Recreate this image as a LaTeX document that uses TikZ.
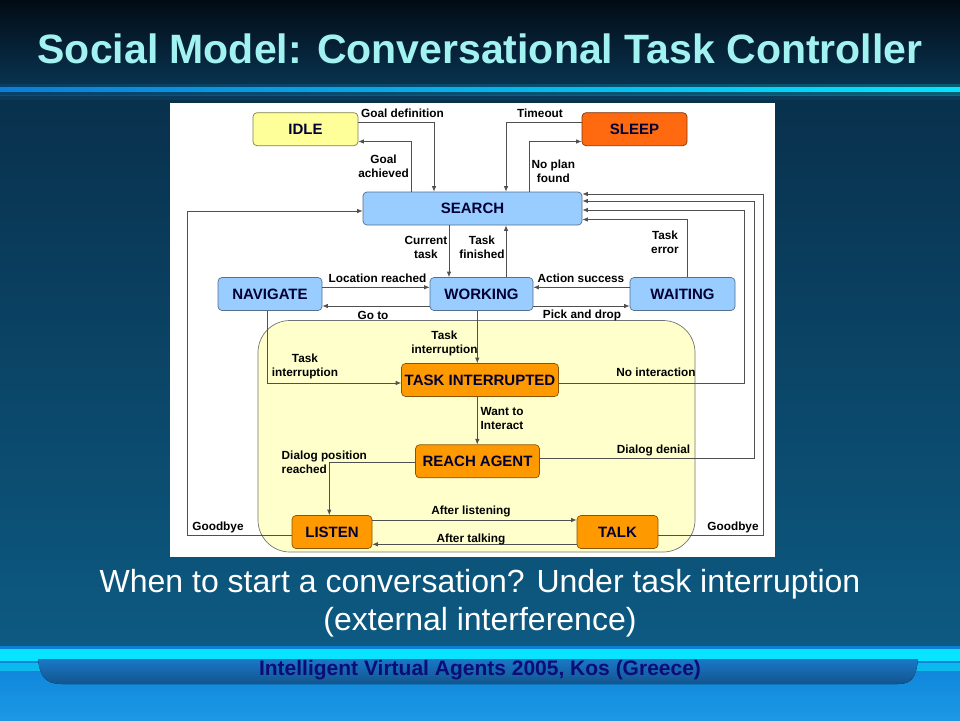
\documentclass[tikz,border=0pt]{standalone}
\usepackage{fontspec}
\setmainfont{Liberation Sans}
\usetikzlibrary{arrows.meta}

\definecolor{stateblue}{HTML}{99CCFF}
\definecolor{stateorange}{HTML}{FF9900}
\definecolor{statered}{HTML}{FF6A10}
\definecolor{stateyellow}{HTML}{FFFF99}
\definecolor{zonefill}{HTML}{FFFFCC}
\definecolor{wire}{HTML}{505050}
\definecolor{titlecyan}{HTML}{A2F2F2}
\definecolor{footnavy}{HTML}{0C0C78}
\definecolor{bgtop}{HTML}{020B15}
\definecolor{bgmid}{HTML}{0A3A5A}
\definecolor{bglow}{HTML}{0D5A82}
\definecolor{bandcyan}{HTML}{08E4FF}
\definecolor{bandblue}{HTML}{0B7FD6}
\definecolor{bandlight}{HTML}{1C98E6}
\definecolor{ribbon}{HTML}{1A78C8}

\tikzset{
  state/.style={rounded corners=4pt, minimum height=33pt, inner sep=0pt, line width=.7pt,
    font=\fontsize{15}{18}\selectfont\bfseries, text=black!80!blue},
  bluestate/.style={state, fill=stateblue, draw=black!45!stateblue},
  orangestate/.style={state, fill=stateorange, draw=black!45!stateorange},
  edge/.style={draw=wire, line width=.8pt, -{Latex[length=5.5pt,width=4.5pt]}},
  lbl/.style={font=\fontsize{11.8}{14}\selectfont\bfseries, inner sep=0pt, text=black, align=center}
}

\begin{document}
\begin{tikzpicture}[x=1pt,y=-1pt]
  \useasboundingbox (0,0) rectangle (960,720);
  % slide background
  \fill[top color=bgtop, bottom color=bgmid] (0,0) rectangle (960,100);
  \fill[top color=bgmid!80!bgtop, bottom color=bglow] (0,100) rectangle (960,646);
  \fill[left color=bandblue, right color=bandcyan, opacity=.3] (0,84) rectangle (960,95);
  \fill[left color=bandblue, right color=bandcyan] (0,87.5) rectangle (960,91.5);
  \fill[top color=bandblue, bottom color=bandlight] (0,646) rectangle (960,720);
  \fill[bandcyan] (0,649) rectangle (960,661);
  \fill[bandcyan, opacity=.55] (0,663) rectangle (60,671);
  \fill[bandcyan, opacity=.55] (900,663) rectangle (960,671);
  \fill[top color=ribbon, bottom color=ribbon!70!black]
    (38,659) .. controls (40,677) and (46,684) .. (62,684) -- (898,684)
    .. controls (912,684) and (916,677) .. (918,659) -- cycle;

  % headings
  \node[anchor=base, text=titlecyan, font=\fontsize{41}{46}\selectfont\bfseries] (title) at (480,63)
    {Social Model: Conversational Task Controller};
  \node[anchor=base, text=white, font=\fontsize{32}{38}\selectfont] (sub1) at (480,592)
    {When to start a conversation? Under task interruption};
  \node[anchor=base, text=white, font=\fontsize{32}{38}\selectfont] (sub2) at (480,630)
    {(external interference)};
  \node[anchor=base, text=footnavy, font=\fontsize{21}{24}\selectfont\bfseries] (footer) at (480,675)
    {Intelligent Virtual Agents 2005, Kos (Greece)};

  % diagram panel
  \fill[white] (170,103) rectangle (775,557);
  \draw[draw=black!55, fill=zonefill, rounded corners=32pt, line width=.7pt] (258,320.5) rectangle (695,552);

  % states
  \node[state, fill=stateyellow, draw=black!50!stateyellow, minimum width=105pt] (idle) at (305.5,129.2) {IDLE};
  \node[state, fill=statered, draw=black!50!statered, minimum width=105pt] (sleep) at (634.5,129.2) {SLEEP};
  \node[bluestate, minimum width=219pt] (search) at (472.5,208.5) {SEARCH};
  \node[bluestate, minimum width=104pt] (navigate) at (270,294) {NAVIGATE};
  \node[bluestate, minimum width=103pt] (working) at (481.5,294) {WORKING};
  \node[bluestate, minimum width=105pt] (waiting) at (682.5,294) {WAITING};
  \node[orangestate, minimum width=157pt] (interrupted) at (480,380) {TASK INTERRUPTED};
  \node[orangestate, minimum width=124pt] (reach) at (477.5,461.3) {REACH AGENT};
  \node[orangestate, minimum width=80pt] (listen) at (332,532) {LISTEN};
  \node[orangestate, minimum width=81pt] (talk) at (617.5,532) {TALK};

  % transitions
  \draw[edge] (idle.east |- 0,122) -| (434,0 |- search.north);
  \draw[edge] (411,0 |- search.north) |- (idle.east |- 0,141.5);
  \draw[edge] (sleep.west |- 0,122) -| (506,0 |- search.north);
  \draw[edge] (529.5,0 |- search.north) |- (sleep.west |- 0,141.5);
  \draw[edge] (449,0 |- search.south) -- (449,0 |- working.north);
  \draw[edge] (506,0 |- working.north) -- (506,0 |- search.south);
  \draw[edge] (687,0 |- waiting.north) |- (search.east |- 0,219.5);
  \draw[edge] (interrupted.east |- 0,383) -| (744,210) -- (search.east |- 0,210);
  \draw[edge] (reach.east |- 0,458.3) -| (754,201) -- (search.east |- 0,201);
  \draw[edge] (talk.east |- 0,535) -| (763,194) -- (search.east |- 0,194);
  \draw[edge] (listen.west |- 0,535) -| (187,211) -- (search.west |- 0,211);
  \draw[edge] (navigate.east |- 0,287.3) -- (working.west |- 0,287.3);
  \draw[edge] (working.west |- 0,306) -- (navigate.east |- 0,306);
  \draw[edge] (waiting.west |- 0,287.3) -- (working.east |- 0,287.3);
  \draw[edge] (working.east |- 0,306) -- (waiting.west |- 0,306);
  \draw[edge] (267.7,0 |- navigate.south) |- (interrupted.west |- 0,383);
  \draw[edge] (477.3,0 |- working.south) -- (477.3,0 |- interrupted.north);
  \draw[edge] (477.3,0 |- interrupted.south) -- (477.3,0 |- reach.north);
  \draw[edge] (reach.west |- 0,462.7) -| (329.3,0 |- listen.north);
  \draw[edge] (listen.east |- 0,520) -- (talk.west |- 0,520);
  \draw[edge] (talk.west |- 0,544.3) -- (listen.east |- 0,544.3);

  % transition labels
  \node[lbl] (lgoaldef) at (402.5,113) {Goal definition};
  \node[lbl, anchor=east] (lgoalach) at (409,166) {Goal\\achieved};
  \node[lbl] (ltimeout) at (540,113) {Timeout};
  \node[lbl, anchor=west] (lnoplan) at (531.5,171.5) {No plan\\found};
  \node[lbl, anchor=east] (lcurrent) at (447.5,247) {Current\\task};
  \node[lbl] (lfinished) at (482,247) {Task\\finished};
  \node[lbl] (ltaskerr) at (665,242) {Task\\error};
  \node[lbl] (llocation) at (377.5,278) {Location reached};
  \node[lbl] (lgoto) at (373,315.5) {Go to};
  \node[lbl] (laction) at (581,278) {Action success};
  \node[lbl] (lpick) at (582,315.5) {Pick and drop};
  \node[lbl] (lnavint) at (305,366) {Task\\interruption};
  \node[lbl] (lworkint) at (444.5,343) {Task\\interruption};
  \node[lbl, anchor=west, align=left] (lwant) at (480.5,418.5) {Want to\\Interact};
  \node[lbl, anchor=west, align=left] (ldialogpos) at (281.5,462) {Dialog position\\reached};
  \node[lbl] (lnointer) at (656,372) {No interaction};
  \node[lbl] (ldenial) at (653.5,450) {Dialog denial};
  \node[lbl] (lbyeright) at (733,527) {Goodbye};
  \node[lbl] (lbyeleft) at (218,527) {Goodbye};
  \node[lbl] (lafterlisten) at (471,511.5) {After listening};
  \node[lbl] (laftertalk) at (471,539) {After talking};
\end{tikzpicture}
\end{document}
